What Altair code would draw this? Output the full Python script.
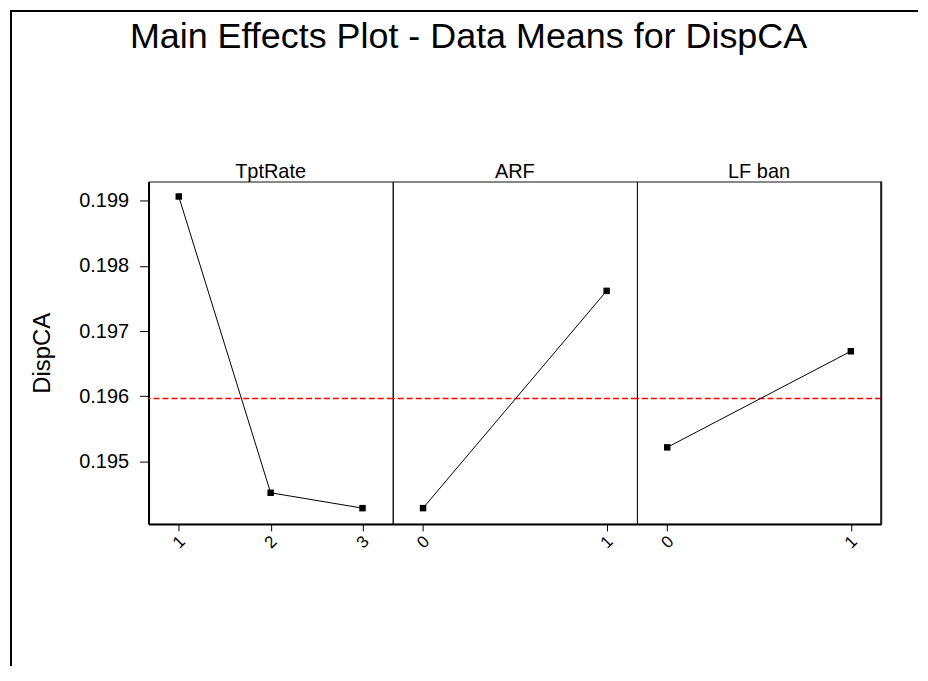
import altair as alt
import pandas as pd

# ---- data ----
TITLE = "Main Effects Plot - Data Means for DispCA"
Y_TITLE = "DispCA"
FACTORS = ["TptRate", "ARF", "LF ban"]
TPT_LEVELS = ["1", "2", "3"]
TPT_MEANS = [0.199067, 0.194515, 0.194279]
ARF_LEVELS = ["0", "1"]
ARF_MEANS = [0.194279, 0.197617]
LF_LEVELS = ["0", "1"]
LF_MEANS = [0.195213, 0.196689]
GRAND_MEAN = [0.195963]
Y_TICKS = [0.195, 0.196, 0.197, 0.198, 0.199]
Y_DOMAIN = [0.194037, 0.199297]

FONT = "Liberation Sans"
W = 245
H = 343.5

one = pd.DataFrame({"a": [0]})
mean_df = pd.DataFrame({"m": GRAND_MEAN})
y_scale = alt.Scale(domain=Y_DOMAIN, nice=False, zero=False)


def panel(name, levels, means, pad, first=False, last=False):
    df = pd.DataFrame({"level": levels, "mean": means})
    xs = alt.Scale(type="point", domain=levels, padding=pad)
    xaxis = alt.Axis(title=None, labelAngle=315, labelAlign="center",
                     labelBaseline="middle", labelPadding=11, labelFontSize=17,
                     tickSize=7, tickColor="black", domainColor="black",
                     domainWidth=2, labelColor="black", grid=False, labelFont=FONT)
    if first:
        yaxis = alt.Axis(values=Y_TICKS, format=".3f", labelFontSize=20,
                         tickSize=9, tickColor="black", domainColor="black",
                         domainWidth=2, labelPadding=11, title=Y_TITLE,
                         titleFontSize=24, titleFontWeight="normal",
                         titlePadding=24, titleColor="black", labelColor="black",
                         grid=False, labelFont=FONT, titleFont=FONT)
    else:
        yaxis = None
    base = alt.Chart(df)
    line = base.mark_line(color="black", strokeWidth=1).encode(
        x=alt.X("level:N", scale=xs, axis=xaxis, sort=levels),
        y=alt.Y("mean:Q", scale=y_scale, axis=yaxis),
    )
    pts = base.mark_point(shape="square", filled=True, color="black",
                          size=42, opacity=1).encode(
        x=alt.X("level:N", scale=xs, axis=xaxis, sort=levels),
        y=alt.Y("mean:Q", scale=y_scale, axis=yaxis),
    )
    hline = alt.Chart(mean_df).mark_rule(color="#FF0000", strokeWidth=1.4,
                                         strokeDash=[6, 3]).encode(
        y=alt.Y("m:Q", scale=y_scale, axis=yaxis)
    )
    header = alt.Chart(pd.DataFrame({"t": [name]})).mark_text(
        font=FONT, fontSize=20, color="black", align="center",
        baseline="alphabetic").encode(
        text="t:N", x=alt.value(W / 2), y=alt.value(-4))
    layers = [hline, line, pts, header]
    if first:
        frame_left = alt.Chart(one).mark_rule(color="black", strokeWidth=2).encode(
            x=alt.value(-138), y=alt.value(-171), y2=alt.value(486))
        frame_top = alt.Chart(one).mark_rule(color="black", strokeWidth=2).encode(
            y=alt.value(-171), x=alt.value(-139), x2=alt.value(772))
        title = alt.Chart(pd.DataFrame({"t": [TITLE]})).mark_text(
            font=FONT, fontSize=36, color="black", align="center",
            baseline="alphabetic").encode(
            text="t:N", x=alt.value(321), y=alt.value(-134))
        layers = [frame_left, frame_top, title] + layers
    if last:
        right = alt.Chart(one).mark_rule(color="#222", strokeWidth=2).encode(
            x=alt.value(W), y=alt.value(0), y2=alt.value(H))
        layers.append(right)
    return alt.layer(*layers).properties(width=W, height=H)


p1 = panel(FACTORS[0], TPT_LEVELS, TPT_MEANS, 0.329, first=True)
p2 = panel(FACTORS[1], ARF_LEVELS, ARF_MEANS, 0.165)
p3 = panel(FACTORS[2], LF_LEVELS, LF_MEANS, 0.165, last=True)

chart = (
    alt.hconcat(p1, p2, p3, spacing=0, bounds="flush")
    .properties(padding={"left": 0, "top": 0, "right": 0, "bottom": 0})
    .configure(font=FONT)
    .configure_view(stroke="#111111", strokeWidth=1)
)

chart.save("out.html", embed_options={"renderer": "svg", "actions": False})
